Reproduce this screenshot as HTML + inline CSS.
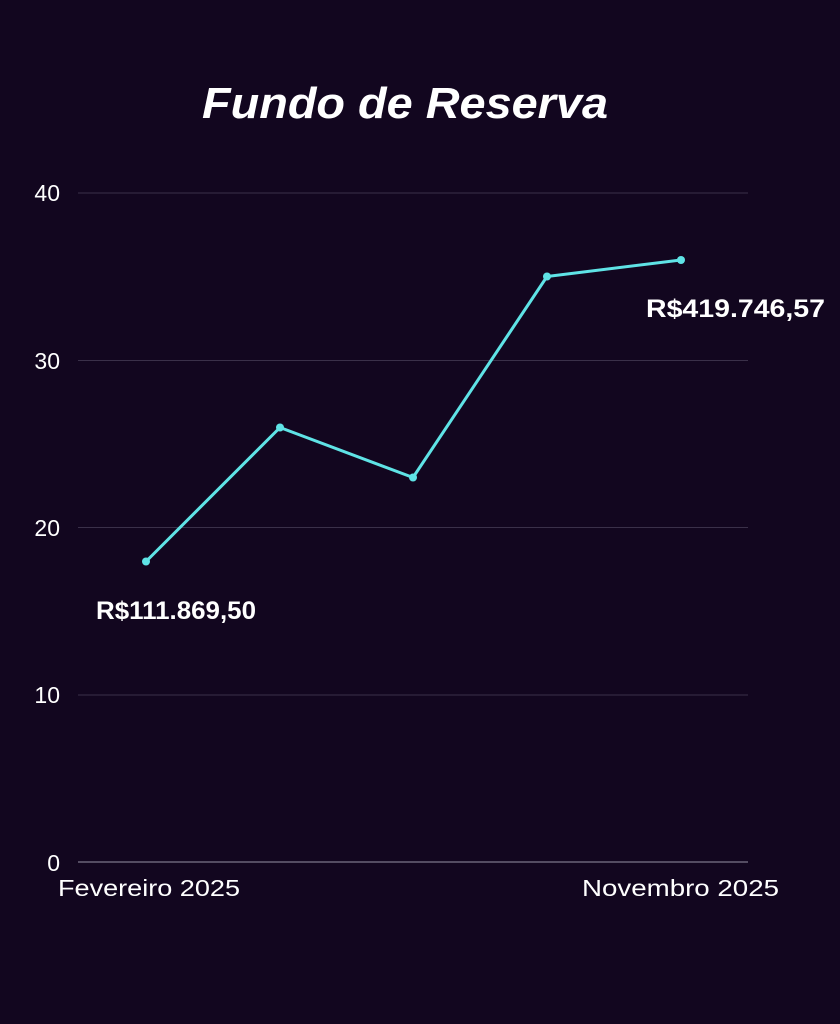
<!DOCTYPE html>
<html><head><style>
html,body{margin:0;padding:0;background:#12061f;}
svg{display:block}
</style></head><body>
<svg width="840" height="1024" viewBox="0 0 840 1024" xmlns="http://www.w3.org/2000/svg">
<rect width="840" height="1024" fill="#12061f"/>
<text x="202" y="118" textLength="406" lengthAdjust="spacingAndGlyphs" font-family="Liberation Sans, sans-serif" font-weight="bold" font-style="italic" font-size="44" fill="#ffffff">Fundo de Reserva</text>
<g stroke="#3a3049" stroke-width="1">
<line x1="78" y1="193" x2="748" y2="193"/>
<line x1="78" y1="360.5" x2="748" y2="360.5"/>
<line x1="78" y1="527.5" x2="748" y2="527.5"/>
<line x1="78" y1="695" x2="748" y2="695"/>
</g>
<line x1="78" y1="862" x2="748" y2="862" stroke="#6b6478" stroke-width="1.5"/>
<g font-family="Liberation Sans, sans-serif" font-size="23" fill="#ffffff" text-anchor="end">
<text x="60" y="201">40</text>
<text x="60" y="369">30</text>
<text x="60" y="536">20</text>
<text x="60" y="703">10</text>
<text x="60" y="871">0</text>
</g>
<g font-family="Liberation Sans, sans-serif" font-size="23" fill="#ffffff">
<text x="58" y="896" textLength="182" lengthAdjust="spacingAndGlyphs">Fevereiro 2025</text>
<text x="582" y="896" textLength="197" lengthAdjust="spacingAndGlyphs">Novembro 2025</text>
</g>
<polyline points="146,561.5 280,427.5 413,477.5 547,276.5 681,260" fill="none" stroke="#5fe3e6" stroke-width="3" stroke-linejoin="round"/>
<g fill="#5fe3e6">
<circle cx="146" cy="561.5" r="4"/><circle cx="280" cy="427.5" r="4"/><circle cx="413" cy="477.5" r="4"/><circle cx="547" cy="276.5" r="4"/><circle cx="681" cy="260" r="4"/>
</g>
<g font-family="Liberation Sans, sans-serif" font-weight="bold" font-size="25" fill="#ffffff">
<text x="96" y="619" textLength="160" lengthAdjust="spacingAndGlyphs">R$111.869,50</text>
<text x="646" y="317" textLength="179" lengthAdjust="spacingAndGlyphs">R$419.746,57</text>
</g>
</svg>
</body></html>
